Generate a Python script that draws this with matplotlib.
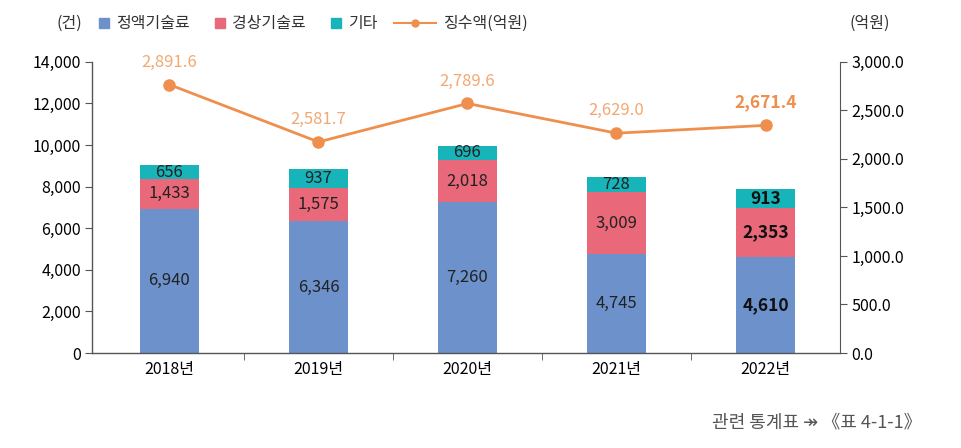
import matplotlib
matplotlib.use("Agg")
import matplotlib.pyplot as plt
from matplotlib.lines import Line2D
from matplotlib.ticker import FuncFormatter, FixedLocator

plt.rcParams['font.family'] = ['Liberation Sans Narrow', 'Noto Sans CJK KR', 'DejaVu Sans']
plt.rcParams['font.size'] = 10.5

# data
years = ['2018년', '2019년', '2020년', '2021년', '2022년']
fixed_fee = [6940, 6346, 7260, 4745, 4610]      # 정액기술료
running_fee = [1433, 1575, 2018, 3009, 2353]    # 경상기술료
other_fee = [656, 937, 696, 728, 913]           # 기타
collected = [2891.6, 2581.7, 2789.6, 2629.0, 2671.4]  # 징수액(억원)

c_blue = '#6C91CB'
c_pink = '#E96879'
c_teal = '#17B4BA'
c_orange = '#EE8F4E'
c_orange_lt = '#F2A872'
c_axis = '#555555'

fig = plt.figure(figsize=(9.62, 4.48), dpi=100)
ax = fig.add_axes([0.0956, 0.212, 0.7776, 0.65])

x = list(range(len(years)))
w = 0.4
ax.bar(x, fixed_fee, w, color=c_blue)
ax.bar(x, running_fee, w, bottom=fixed_fee, color=c_pink)
bottom3 = [a + b for a, b in zip(fixed_fee, running_fee)]
ax.bar(x, other_fee, w, bottom=bottom3, color=c_teal)

# segment labels
for i in x:
    last = (i == len(x) - 1)
    kw = dict(ha='center', va='center', color='#111111' if last else '#222222',
              fontsize=12.5 if last else 12, fontweight='bold' if last else 'normal')
    ax.text(i, fixed_fee[i] / 2, f'{fixed_fee[i]:,}', **kw)
    ax.text(i, fixed_fee[i] + running_fee[i] / 2, f'{running_fee[i]:,}', **kw)
    ax.text(i, bottom3[i] + other_fee[i] / 2, f'{other_fee[i]:,}', **kw)

ax.set_xlim(-0.52, 4.5)
ax.set_ylim(0, 14000)
ax.set_yticks(range(0, 14001, 2000))
ax.yaxis.set_major_formatter(FuncFormatter(lambda v, p: f'{int(v):,}'))
ax.set_xticks(x)
ax.set_xticklabels(years, fontsize=11.5)
ax.tick_params(axis='x', which='major', length=0, pad=6)
ax.xaxis.set_minor_locator(FixedLocator([0.5, 1.5, 2.5, 3.5]))
ax.tick_params(axis='x', which='minor', length=5, direction='out', color=c_axis)
ax.tick_params(axis='y', length=5, direction='out', color=c_axis, labelsize=11.5, pad=3)
for s in ['top', 'right']:
    ax.spines[s].set_visible(False)
for s in ['left', 'bottom']:
    ax.spines[s].set_color(c_axis)
    ax.spines[s].set_linewidth(1.0)

# right axis (displayed scale)
axr = ax.twinx()
axr.set_ylim(0, 3000)
axr.set_yticks(range(0, 3001, 500))
axr.yaxis.set_major_formatter(FuncFormatter(lambda v, p: f'{v:,.1f}'))
axr.tick_params(axis='y', length=5, direction='out', color=c_axis, labelsize=11.5, pad=3)
for s in ['top', 'left', 'bottom']:
    axr.spines[s].set_visible(False)
axr.spines['right'].set_color(c_axis)

# line drawn on its own hidden scale, as in the source figure
axl = ax.twinx()
axl.set_ylim(1440, 3015)
axl.axis('off')
axl.plot(x, collected, color=c_orange, lw=2, marker='o', markersize=8)
for i, v in enumerate(collected):
    last = (i == len(x) - 1)
    axl.annotate(f'{v:,.1f}', (i, v), xytext=(0, 10), textcoords='offset points',
                 ha='center', va='bottom',
                 color=c_orange if last else c_orange_lt,
                 fontsize=12.5 if last else 12, fontweight='bold' if last else 'normal')

# legend: squares and the line get separate handle lengths
sq_handles = [
    Line2D([], [], marker='s', ls='none', color=c_blue, markersize=7),
    Line2D([], [], marker='s', ls='none', color=c_pink, markersize=7),
    Line2D([], [], marker='s', ls='none', color=c_teal, markersize=7),
]
fig.legend(sq_handles, ['정액기술료', '경상기술료', '기타'], loc='center left',
           bbox_to_anchor=(0.101, 0.947), ncol=3, frameon=False,
           handlelength=0.8, handletextpad=0.4, columnspacing=1.45,
           fontsize=11.5, labelcolor='#333333', borderpad=0, borderaxespad=0)
fig.legend([Line2D([], [], marker='o', color=c_orange, lw=1.5, markersize=5)],
           ['징수액(억원)'], loc='center left', bbox_to_anchor=(0.41, 0.947),
           frameon=False, handlelength=2.6, handletextpad=0.5,
           fontsize=11.5, labelcolor='#333333', borderpad=0, borderaxespad=0)
fig.text(0.059, 0.947, '(건)', ha='left', va='center', fontsize=11.5, color='#333333')
fig.text(0.904, 0.947, '(억원)', ha='center', va='center', fontsize=11.5, color='#333333')

fig.text(0.958, 0.058, '관련 통계표 ↠ 《표 4-1-1》', ha='right', va='center',
         fontsize=13, color='#555555',
         family=['Noto Sans CJK KR', 'DejaVu Sans'])

fig.savefig('out.png', dpi=100)
